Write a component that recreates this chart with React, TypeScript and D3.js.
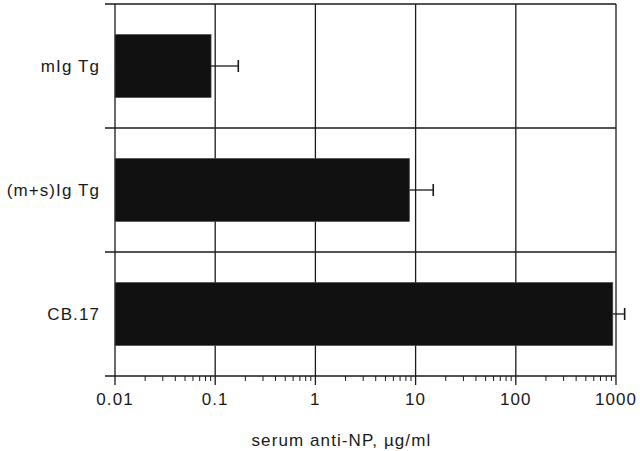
import React, { useEffect, useRef } from 'react';
import * as d3 from 'd3';

// values (serum anti-NP, ug/ml)
const groups = ['mIg Tg', '(m+s)Ig Tg', 'CB.17'];
const means = [0.091, 8.7, 930];
const upper = [0.17, 15, 1220];
const tickValues = [0.01, 0.1, 1, 10, 100, 1000];
const tickLabels = ['0.01', '0.1', '1', '10', '100', '1000'];

const App = () => {
  const svgRef = useRef<SVGSVGElement>(null);

  useEffect(() => {
    const width = 640;
    const height = 451;
    const margin = { top: 4, right: 24, bottom: 75, left: 115 };
    const innerW = width - margin.left - margin.right;
    const innerH = height - margin.top - margin.bottom;
    const ink = '#1a1a1a';
    const font = '"Liberation Sans", Arial, Helvetica, sans-serif';

    const svg = d3.select(svgRef.current)
      .attr('width', width)
      .attr('height', height);
    svg.selectAll('*').remove();

    const chart = svg.append('g')
      .attr('transform', `translate(${margin.left},${margin.top})`);

    const x = d3.scaleLog().domain([0.01, 1000]).range([0, innerW]);
    const y = d3.scaleBand<string>().domain(groups).range([0, innerH]).padding(0);
    const barH = y.bandwidth() * 0.51;

    // vertical grid at every decade
    chart.selectAll('.grid')
      .data(tickValues)
      .enter()
      .append('line')
      .attr('x1', d => x(d))
      .attr('x2', d => x(d))
      .attr('y1', 0)
      .attr('y2', innerH)
      .attr('stroke', ink)
      .attr('stroke-width', 1.3);

    // horizontal lines at band boundaries (with ticks out to the left)
    const bounds = [0, ...groups.map(g => (y(g) as number) + y.bandwidth())];
    chart.selectAll('.hline')
      .data(bounds)
      .enter()
      .append('line')
      .attr('x1', -10)
      .attr('x2', innerW)
      .attr('y1', d => d)
      .attr('y2', d => d)
      .attr('stroke', ink)
      .attr('stroke-width', 1.3);

    // bars
    chart.selectAll('.bar')
      .data(groups)
      .enter()
      .append('rect')
      .attr('x', 0)
      .attr('y', d => (y(d) as number) + (y.bandwidth() - barH) / 2)
      .attr('width', (d, i) => x(means[i]))
      .attr('height', barH)
      .attr('fill', '#111')
      .attr('stroke', '#555')
      .attr('stroke-width', 0.6);

    // error bars
    const err = chart.selectAll('.err')
      .data(groups)
      .enter()
      .append('g')
      .attr('transform', d => `translate(0,${(y(d) as number) + y.bandwidth() / 2})`);
    err.append('line')
      .attr('x1', (d, i) => x(means[i]))
      .attr('x2', (d, i) => x(upper[i]))
      .attr('stroke', ink)
      .attr('stroke-width', 1.3);
    err.append('line')
      .attr('x1', (d, i) => x(upper[i]))
      .attr('x2', (d, i) => x(upper[i]))
      .attr('y1', -6)
      .attr('y2', 6)
      .attr('stroke', ink)
      .attr('stroke-width', 1.6);

    // x axis: major ticks, minor ticks and labels
    const axis = chart.append('g').attr('transform', `translate(0,${innerH})`);
    const minor: number[] = [];
    tickValues.slice(0, -1).forEach(t => {
      for (let k = 2; k <= 9; k++) minor.push(t * k);
    });
    axis.selectAll('.minor')
      .data(minor)
      .enter()
      .append('line')
      .attr('x1', d => x(d))
      .attr('x2', d => x(d))
      .attr('y1', 0)
      .attr('y2', 5)
      .attr('stroke', ink)
      .attr('stroke-width', 1);
    axis.selectAll('.major')
      .data(tickValues)
      .enter()
      .append('line')
      .attr('x1', d => x(d))
      .attr('x2', d => x(d))
      .attr('y1', 0)
      .attr('y2', 9)
      .attr('stroke', ink)
      .attr('stroke-width', 1.3);
    axis.selectAll('.tlabel')
      .data(tickValues)
      .enter()
      .append('text')
      .attr('x', d => x(d))
      .attr('y', 29)
      .attr('text-anchor', 'middle')
      .attr('font-family', font)
      .attr('font-size', 17)
      .attr('letter-spacing', 1.1)
      .attr('fill', ink)
      .text((d, i) => tickLabels[i]);

    // x axis title
    chart.append('text')
      .attr('x', x(1) + 26)
      .attr('y', innerH + 70)
      .attr('text-anchor', 'middle')
      .attr('font-family', font)
      .attr('font-size', 17)
      .attr('letter-spacing', 1.1)
      .attr('fill', ink)
      .text('serum anti-NP,  \u00b5g/ml');

    // category labels
    chart.selectAll('.glabel')
      .data(groups)
      .enter()
      .append('text')
      .attr('x', -15)
      .attr('y', d => (y(d) as number) + y.bandwidth() / 2 + 6)
      .attr('text-anchor', 'end')
      .attr('font-family', font)
      .attr('font-size', 17)
      .attr('letter-spacing', 1.1)
      .attr('fill', ink)
      .text(d => d);
  }, []);

  return (
    <svg ref={svgRef} width={640} height={451}
      style={{ position: 'absolute', left: 0, top: 0, background: '#fff' }} />
  );
};

export default App;
